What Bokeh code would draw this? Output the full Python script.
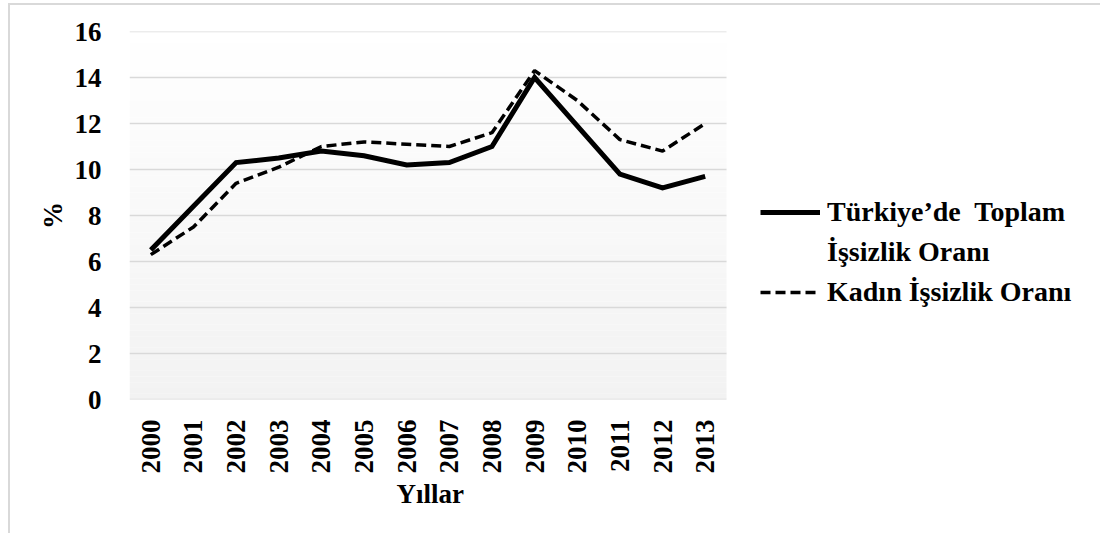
from math import pi

from bokeh.plotting import figure
from bokeh.models import Range1d, FixedTicker, Legend, LegendItem, Title
from bokeh.embed import file_html
from bokeh.resources import INLINE

# Unemployment rates in Türkiye, 2000-2013 (%)
years = [str(y) for y in range(2000, 2014)]
toplam = [6.5, 8.4, 10.3, 10.5, 10.8, 10.6, 10.2, 10.3, 11.0, 14.0, 11.9, 9.8, 9.2, 9.7]
kadin = [6.3, 7.5, 9.4, 10.1, 11.0, 11.2, 11.1, 11.0, 11.6, 14.3, 13.0, 11.3, 10.8, 12.0]
y_ticks = [0, 2, 4, 6, 8, 10, 12, 14, 16]

FONT = "Liberation Serif"
GRID = "#d9d9d9"

# layout (pixels): plot area from x=129 to x=726, legend to its right
W, H = 1100, 533
LEFT, TOP, BOTTOM = 129, 31, 134
PLOT_W = 597
n = len(years)
xs = [i + 0.5 for i in range(n)]          # category centres
x_end = n * (W - LEFT) / PLOT_W           # extra room on the right for the legend

p = figure(width=W, height=H,
           x_range=Range1d(0, x_end), y_range=Range1d(0, 16),
           output_backend="svg", toolbar_location=None,
           min_border_left=LEFT, min_border_right=0,
           min_border_top=TOP, min_border_bottom=BOTTOM)
p.background_fill_color = "white"
p.border_fill_color = None
p.outline_line_color = None
# white page with a thin grey frame line along the top and left edges
p.styles = {
    "background": ("linear-gradient(#d9d9d9, #d9d9d9) 8px 3px / 2px 100% no-repeat, "
                   "linear-gradient(#d9d9d9, #d9d9d9) 8px 3px / 100% 2px no-repeat, "
                   "white"),
}

# soft vertical gradient behind the plot: light grey at the bottom, white at the top
n_bands = 64
for i in range(n_bands):
    y0 = 16 * i / n_bands
    y1 = 16 * (i + 1) / n_bands
    t = (i + 0.5) / n_bands
    g = int(round(242 + (255 - 242) * t))
    p.quad(left=0, right=n, bottom=y0, top=y1,
           fill_color=(g, g, g), line_color=None, level="image")

# horizontal gridlines, limited to the plot area
p.segment(x0=[0] * len(y_ticks), x1=[n] * len(y_ticks), y0=y_ticks, y1=y_ticks,
          line_color=GRID, line_width=1.5, level="underlay")

r_total = p.line(xs, toplam, line_color="black", line_width=5,
                 line_join="miter")
r_women = p.line(xs, kadin, line_color="black", line_width=3.5,
                 line_dash="10 5")
# empty renderer: carries the second line of the first legend label
r_blank = p.line(x=[], y=[], line_alpha=0)

p.xgrid.grid_line_color = None
p.ygrid.grid_line_color = None

for ax in (p.xaxis[0], p.yaxis[0]):
    ax.major_label_text_font = FONT
    ax.major_label_text_font_style = "bold"
    ax.major_label_text_font_size = "27px"
    ax.major_label_text_color = "black"
    ax.axis_label_text_font = FONT
    ax.axis_label_text_font_style = "bold"
    ax.axis_label_text_font_size = "27px"
    ax.axis_label_text_color = "black"
    ax.axis_line_color = None
    ax.major_tick_line_color = None
    ax.minor_tick_line_color = None

p.yaxis.ticker = FixedTicker(ticks=y_ticks)
p.yaxis.major_label_standoff = 22
p.yaxis.axis_label = "%"
p.yaxis.axis_label_standoff = 4

p.xaxis.ticker = FixedTicker(ticks=xs)
p.xaxis.major_label_overrides = {x: y for x, y in zip(xs, years)}
p.xaxis.major_label_orientation = pi / 2
p.xaxis.major_label_standoff = 14

# x axis title, placed under the middle of the plot area
xtitle = Title(text="Yıllar", align="left", offset=267,
               text_font=FONT, text_font_style="bold", text_font_size="27px",
               text_color="black", standoff=0)
p.add_layout(xtitle, "below")

legend = Legend(items=[
    LegendItem(label="Türkiye’de  Toplam", renderers=[r_total]),
    LegendItem(label="İşsizlik Oranı", renderers=[r_blank]),
    LegendItem(label="Kadın İşsizlik Oranı", renderers=[r_women]),
], location=(631, 91))
legend.background_fill_alpha = 0
legend.border_line_alpha = 0
legend.padding = 0
legend.margin = 0
legend.spacing = 8
legend.glyph_width = 60
legend.glyph_height = 30
legend.label_height = 30
legend.label_standoff = 7
legend.label_text_font = FONT
legend.label_text_font_style = "bold"
legend.label_text_font_size = "28px"
legend.label_text_color = "black"
p.add_layout(legend, "center")

open("out.html", "w").write(file_html(p, INLINE))
